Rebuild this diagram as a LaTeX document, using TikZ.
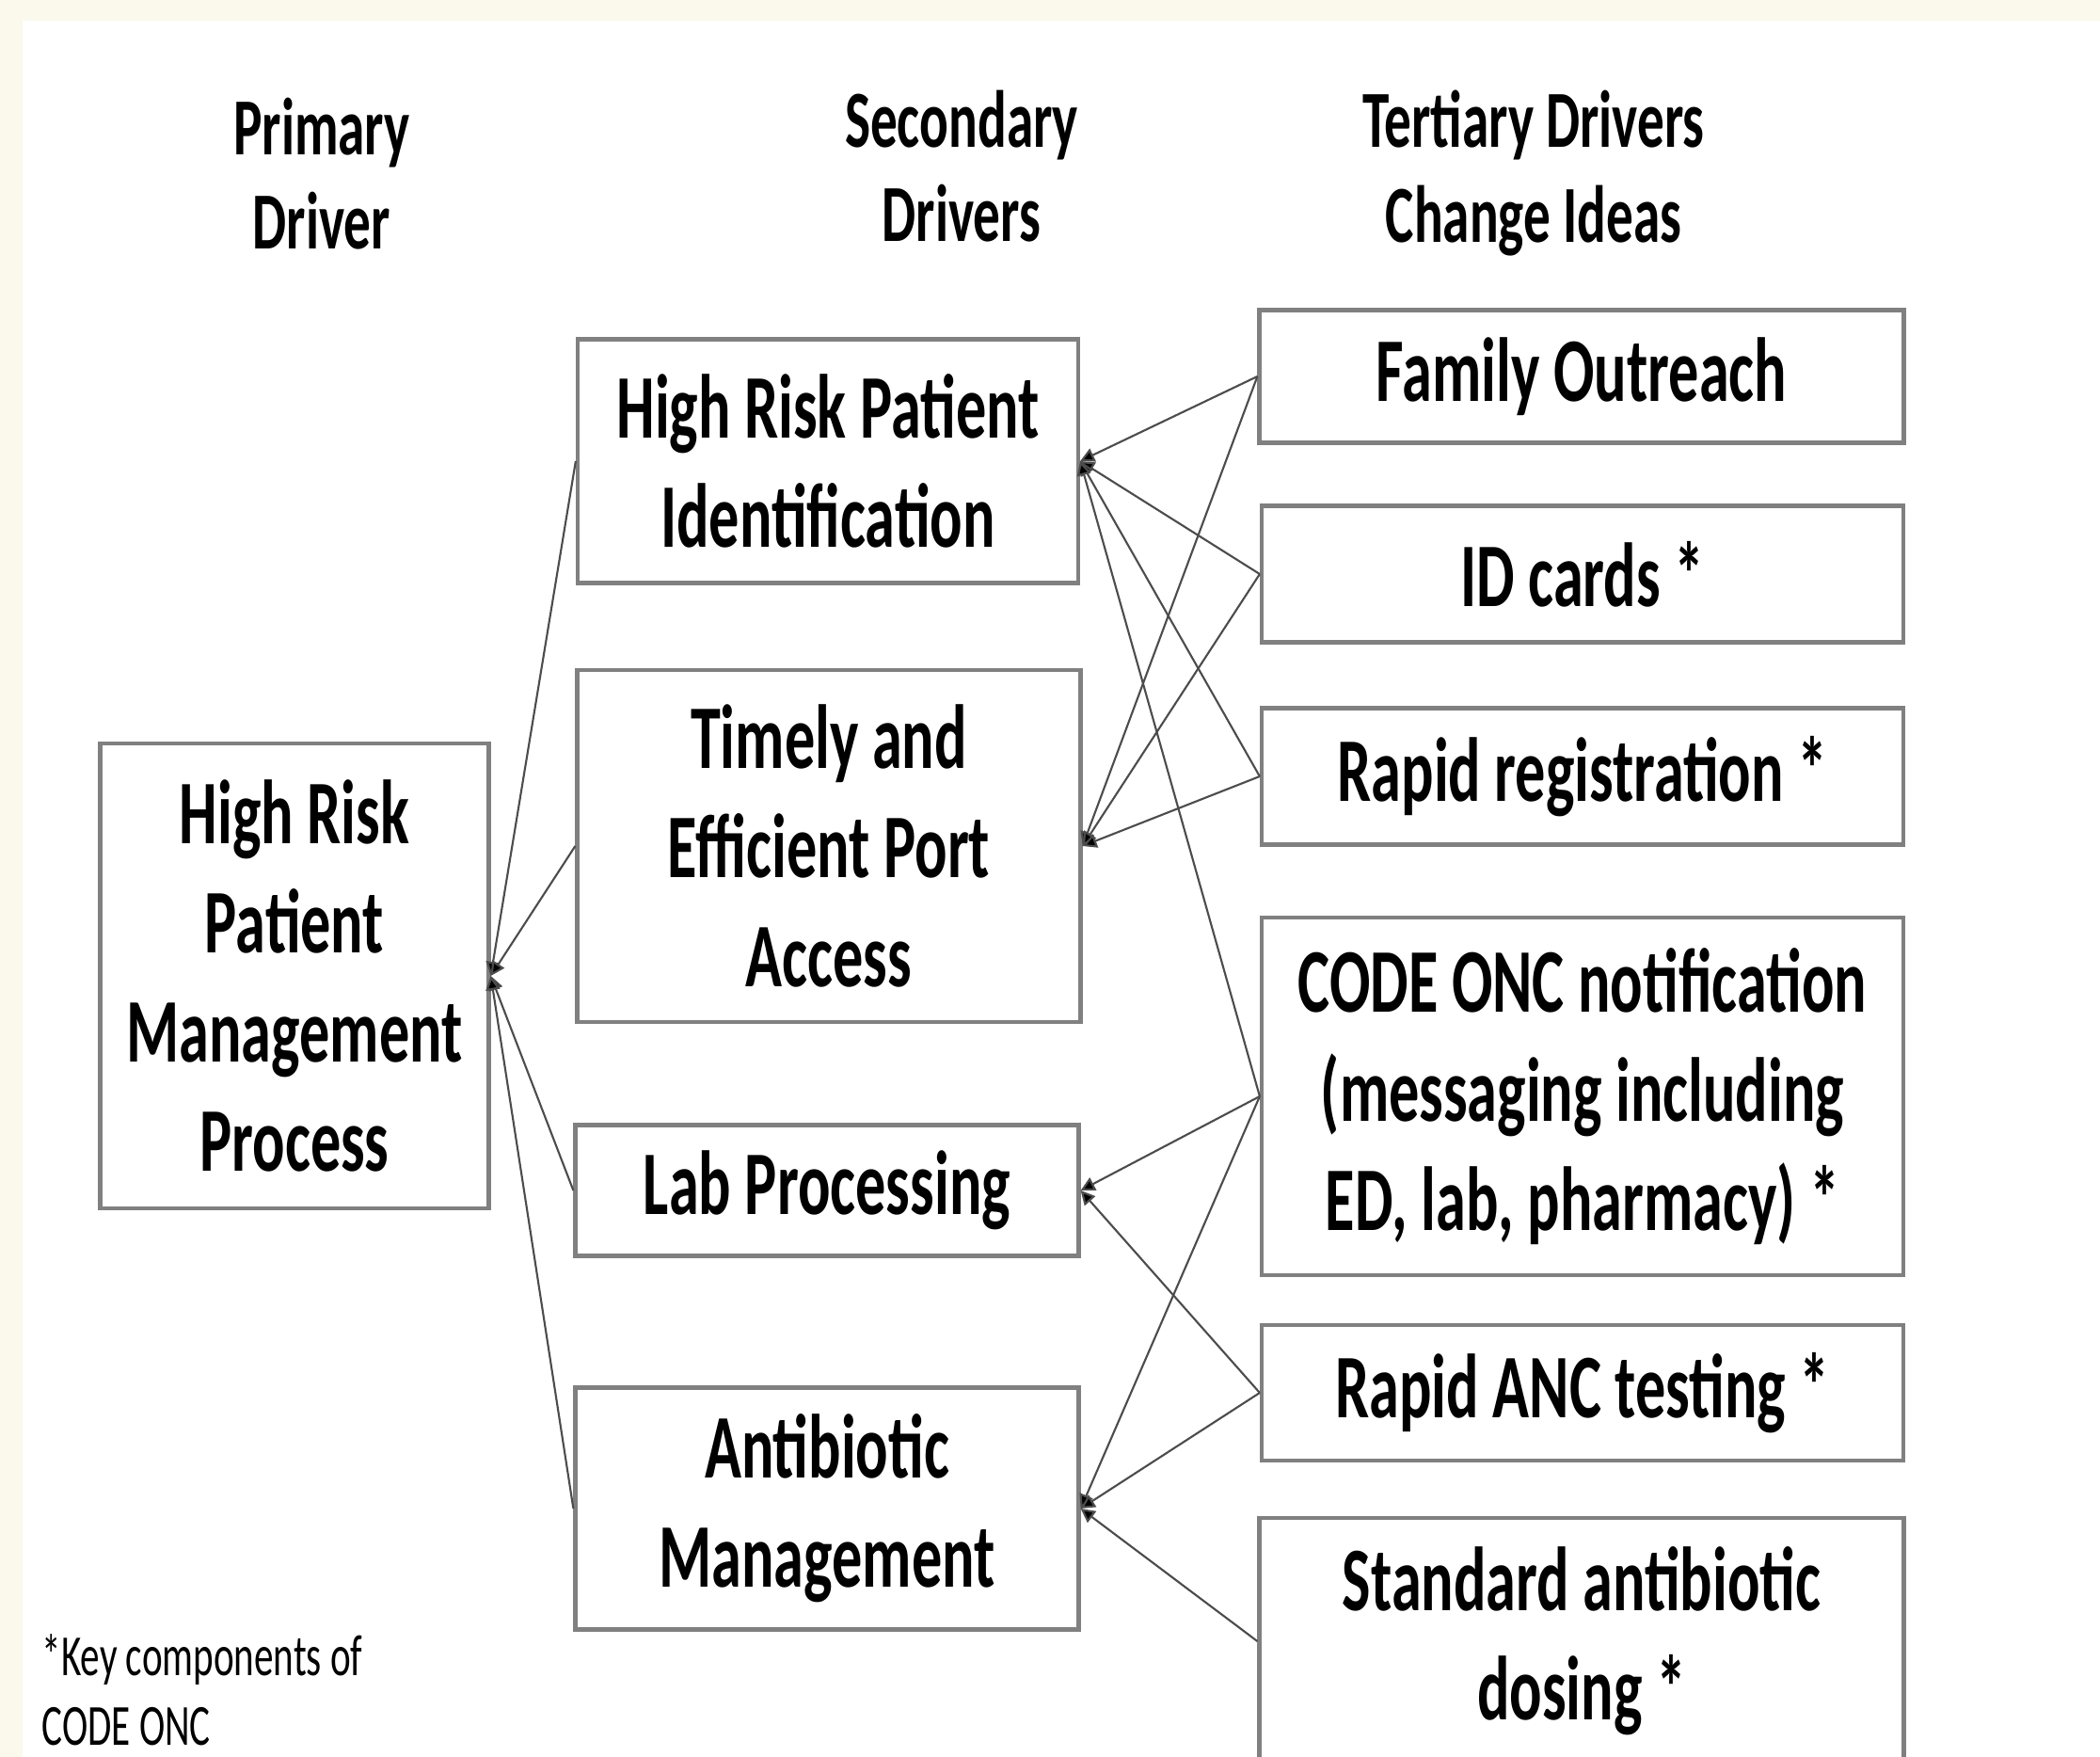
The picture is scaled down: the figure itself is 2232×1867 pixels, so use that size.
\documentclass[tikz,border=0pt]{standalone}
\usepackage{fontspec}
\setmainfont{Carlito}
\newfontfamily\narrowfont[FakeStretch=0.665]{Carlito}
\usetikzlibrary{arrows.meta}

\definecolor{cream}{RGB}{251,249,236}
\definecolor{boxgray}{RGB}{128,128,128}

\begin{document}
\begin{tikzpicture}[x=0.1mm, y=-0.1mm, >={Triangle[length=1.5mm, width=1.5mm, fill=black]},
  driver/.style={draw=boxgray, line width=1.2pt, inner sep=0pt, align=center,
    font=\narrowfont\bfseries\fontsize{27.5pt}{33pt}\selectfont},
  heading/.style={align=center, font=\narrowfont\bfseries\fontsize{24.5pt}{28.5pt}\selectfont},
  note/.style={align=left, inner sep=0pt, font=\narrowfont\fontsize{17.6pt}{21pt}\selectfont},
  link/.style={->, draw=black!70, line width=0.6pt}]
  \useasboundingbox (0,0) rectangle (2232,1867);
  \fill[cream] (0,0) rectangle (2232,1867);
  \fill[white] (24,22) rectangle (2232,1867);

  % column headings
  \node[heading] (hprim) at (342,185) {Primary\\Driver};
  \node[heading] (hsec) at (1022,177) {Secondary\\Drivers};
  \node[heading] (hter) at (1630,184) {Tertiary Drivers\\Change Ideas};

  % primary and secondary drivers
  \node[driver, minimum width=41.3mm, minimum height=49.4mm] (prim) at (313,1037) {High Risk\\Patient\\Management\\Process};
  \node[driver, minimum width=53.2mm, minimum height=25.9mm] (hrpi) at (880,490) {High Risk Patient\\Identification};
  \node[driver, minimum width=53.5mm, minimum height=37.4mm] (port) at (881,899) {Timely and\\Efficient Port\\Access};
  \node[driver, minimum width=53.5mm, minimum height=13.9mm] (lab) at (879,1265) {Lab Processing};
  \node[driver, minimum width=53.5mm, minimum height=25.7mm] (abx) at (879,1603) {Antibiotic\\Management};

  % change ideas
  \node[driver, minimum width=68.5mm, minimum height=14.1mm] (family) at (1681,400) {Family Outreach};
  \node[driver, minimum width=68.2mm, minimum height=14.5mm] (idcard) at (1682,610) {ID cards *};
  \node[driver, minimum width=68.2mm, minimum height=14.5mm] (register) at (1682,825) {Rapid registration *};
  \node[driver, minimum width=68.2mm, minimum height=38mm] (codeonc) at (1682,1165) {CODE ONC notification\\(messaging including\\ED, lab, pharmacy) *};
  \node[driver, minimum width=68.2mm, minimum height=14.4mm] (anc) at (1682,1480) {Rapid ANC testing *};
  \node[driver, minimum width=68.5mm, minimum height=26.2mm] (dosing) at (1681,1744) {Standard antibiotic\\dosing *};

  \node[note, anchor=west] (key) at (44,1796) {*Key components of\\CODE ONC};

  % secondary -> primary
  \draw[link] (hrpi.west) -- (prim.east);
  \draw[link] (port.west) -- (prim.east);
  \draw[link] (lab.west) -- (prim.east);
  \draw[link] (abx.west) -- (prim.east);

  % change ideas -> secondary
  \draw[link] (family.west) -- (hrpi.east);
  \draw[link] (family.west) -- (port.east);
  \draw[link] (idcard.west) -- (hrpi.east);
  \draw[link] (idcard.west) -- (port.east);
  \draw[link] (register.west) -- (hrpi.east);
  \draw[link] (register.west) -- (port.east);
  \draw[link] (codeonc.west) -- (hrpi.east);
  \draw[link] (codeonc.west) -- (lab.east);
  \draw[link] (codeonc.west) -- (abx.east);
  \draw[link] (anc.west) -- (lab.east);
  \draw[link] (anc.west) -- (abx.east);
  \draw[link] (dosing.west) -- (abx.east);
\end{tikzpicture}
\end{document}
